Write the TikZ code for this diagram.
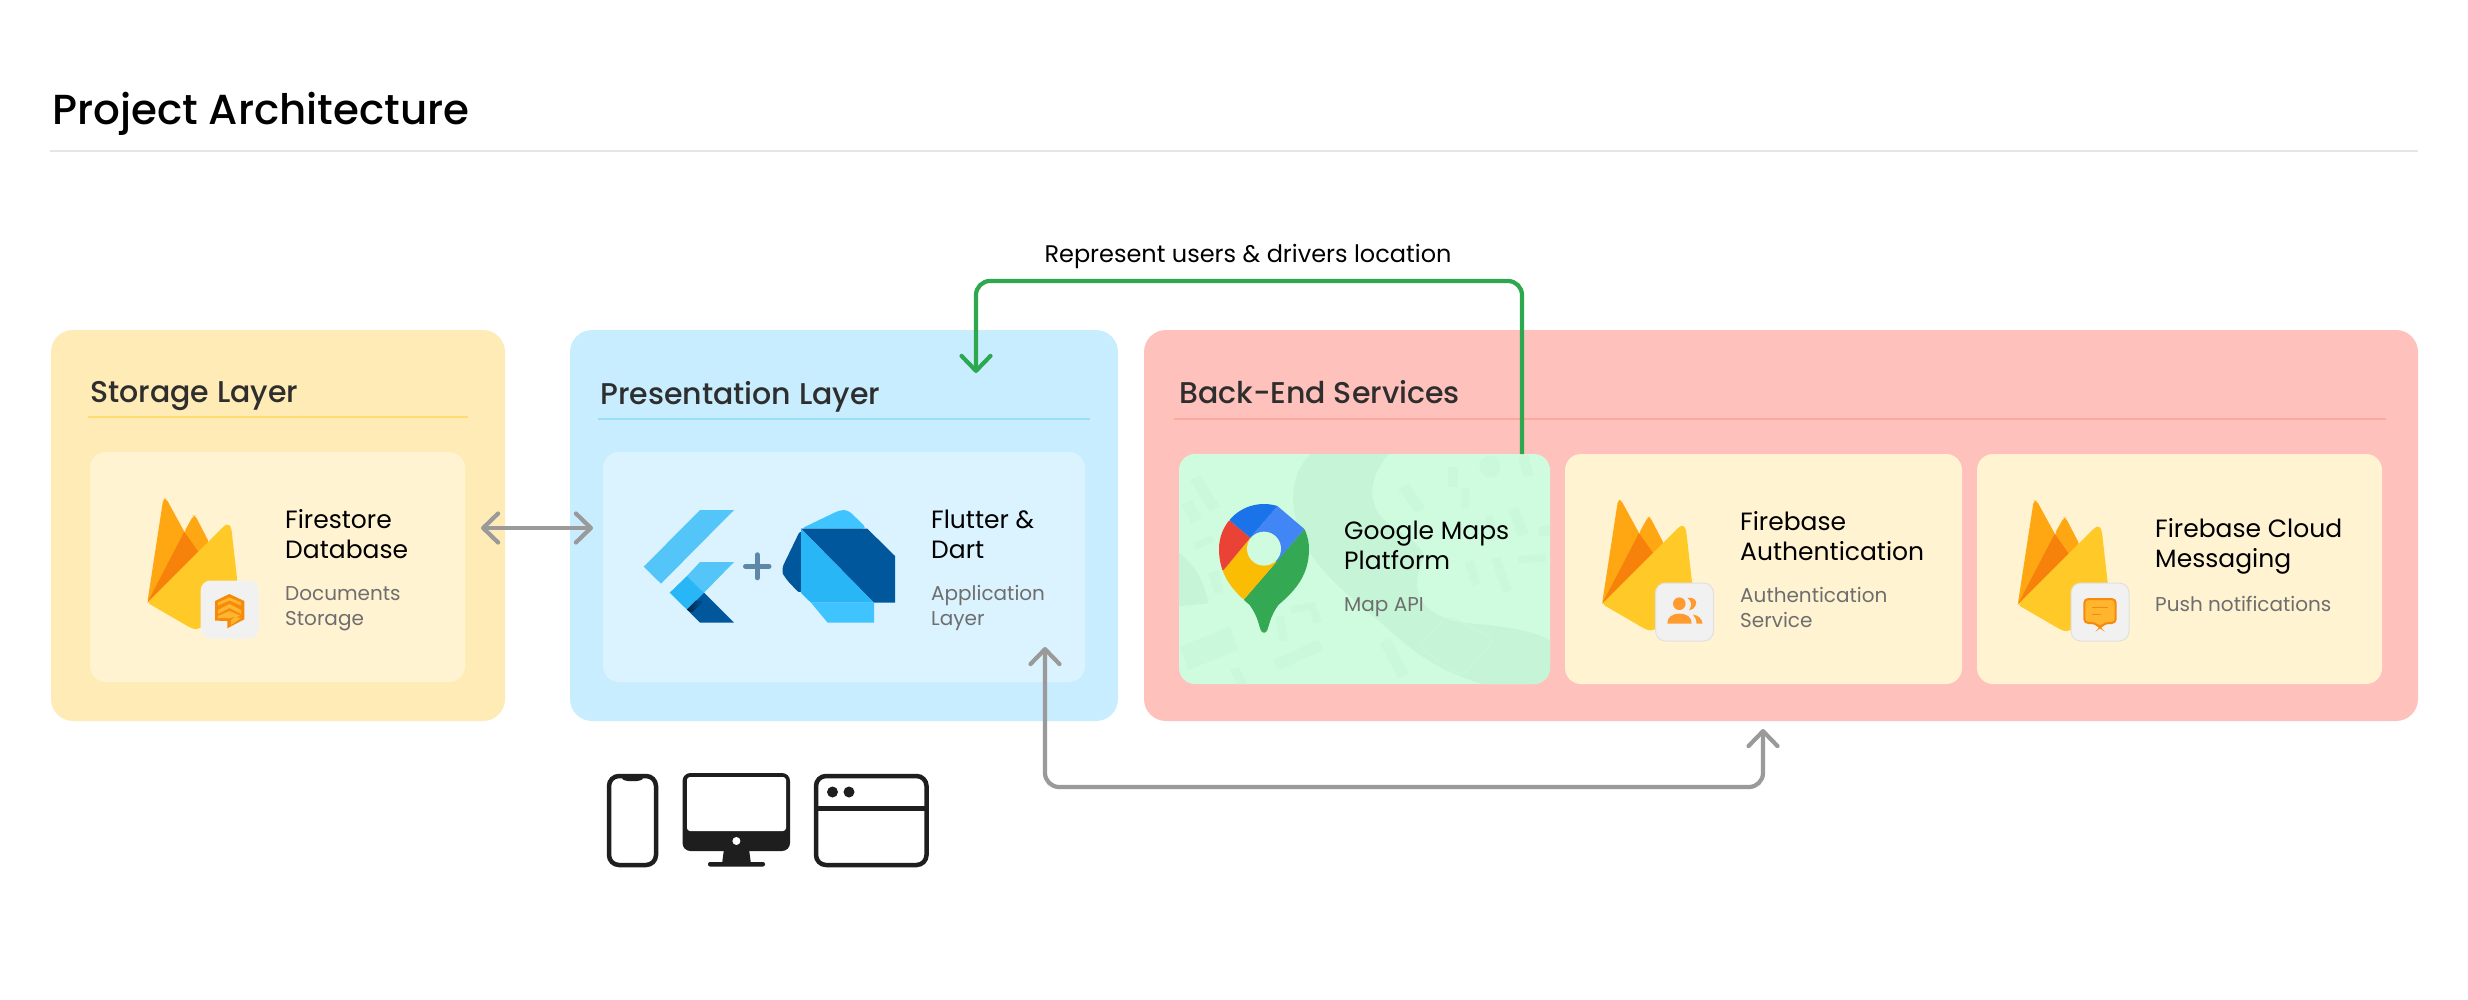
\documentclass[tikz,border=0pt]{standalone}
\usepackage{fontspec}
\setmainfont{Poppins}
\newfontfamily\pmed{Poppins Medium}
\usetikzlibrary{arrows.meta,shadings}
\definecolor{storebg}{HTML}{FEEBB6}
\definecolor{storein}{HTML}{FFF3D2}
\definecolor{storeln}{HTML}{FFDC73}
\definecolor{presbg}{HTML}{C8EDFF}
\definecolor{presin}{HTML}{DAF3FF}
\definecolor{presln}{HTML}{9ADFFF}
\definecolor{backbg}{HTML}{FFC1BC}
\definecolor{backln}{HTML}{FFA8A2}
\definecolor{mapbg}{HTML}{CFFCDE}
\definecolor{mapdk}{HTML}{C6F4D6}
\definecolor{mapbd}{HTML}{CAF8DA}
\definecolor{arrgray}{HTML}{9A9A9A}
\definecolor{arrgreen}{HTML}{2EA84F}
\definecolor{subtxt}{HTML}{6E6E6E}
\definecolor{headtxt}{HTML}{2E2E2E}
\definecolor{ink}{HTML}{1E1E1E}
\definecolor{fbA}{HTML}{FFA712}
\definecolor{fbB}{HTML}{F6820C}
\definecolor{fbC}{HTML}{FFCA28}
\definecolor{badgebg}{HTML}{F1F1F1}
\definecolor{badgeln}{HTML}{E0E0E0}
\definecolor{icono}{HTML}{F58A0B}
\definecolor{icony}{HTML}{FFB52E}
\definecolor{iconp}{HTML}{FF9A2E}
\definecolor{flA}{HTML}{54C5F8}
\definecolor{flB}{HTML}{29B6F6}
\definecolor{flC}{HTML}{01579B}
\definecolor{daA}{HTML}{40C4FF}
\definecolor{plusc}{HTML}{5E87A8}
\definecolor{pinG}{HTML}{34A853}
\definecolor{pinY}{HTML}{FBBC04}
\definecolor{pinR}{HTML}{EA4335}
\definecolor{pinB}{HTML}{1A73E8}
\definecolor{pinL}{HTML}{4285F4}
\tikzset{
  panel/.style={inner sep=0pt,rounded corners=22pt},
  cardbox/.style={inner sep=0pt,rounded corners=16pt,minimum height=230pt},
  headtext/.style={anchor=base west,inner sep=0pt,text=headtxt,font=\pmed\fontsize{30}{36}\selectfont},
  cardtitle/.style={anchor=base west,inner sep=0pt,align=left,text=black,font=\fontsize{25}{30}\selectfont},
  cardsub/.style={anchor=base west,inner sep=0pt,align=left,text=subtxt,font=\fontsize{20}{24.5}\selectfont},
  badge/.style={inner sep=0pt,minimum size=58pt,rounded corners=10pt,fill=badgebg},
  barbtips/.style={>={Straight Barb[length=15pt,width=29pt,line cap=round,round]}},
  grayflow/.style={draw=arrgray,line width=4.2pt,rounded corners=14pt,barbtips},
  greenflow/.style={draw=arrgreen,line width=4.2pt,rounded corners=14pt,barbtips},
  firebase/.pic={
    \fill[fbA,rounded corners=3pt] (0,0) -- (16,-104) -- (19,-104) -- (37,-71) -- (52,-48) -- cycle;
    \fill[fbA,rounded corners=3pt] (37,-71) -- (46,-87) -- (48,-87) -- (62,-60) -- (50,-46) -- cycle;
    \fill[fbB] (0,0) -- (37,-71) -- (51,-51) -- cycle;
    \fill[fbC,rounded corners=3pt] (0,0) -- (77,-77) -- (81,-79) -- (84,-75) -- (93,5) -- (49,27) -- (43,25) -- cycle;
  },
  flutterlogo/.pic={
    \fill[flA] (700,510) -- (734,510) -- (661,583.7) -- (643.7,566.7) -- cycle;
    \fill[flA] (700,562) -- (734,562) -- (704,592.7) -- (687,576) -- cycle;
    \fill[flC] (704,592.7) -- (734,622.7) -- (700,622.7) -- (687,609.7) -- cycle;
    \fill[flB] (687,576) -- (704,592.7) -- (687,609.7) -- (669.7,592.7) -- cycle;
    \fill[left color=flC!40!black,right color=flC] (687,609.7) -- (696,600.7) -- (702,602) -- (692,612) -- cycle;
  },
  dartlogo/.pic={
    \fill[daA,rounded corners=5pt] (801,528.7) -- (840,510) -- (848,510) -- (867.3,528.7) -- cycle;
    \fill[flC,rounded corners=6pt] (801,528.7) -- (781,570) -- (785,578) -- (801,595) -- (810,560) -- cycle;
    \fill[flC] (801,528.7) -- (867.3,528.7) -- (895,556) -- (895,602.7) -- (874,602.7) -- cycle;
    \fill[daA] (811,602.7) -- (874,602.7) -- (874,622.7) -- (827.7,622.7) -- cycle;
    \fill[flB] (801,528.7) -- (874,602.7) -- (811,602.7) -- (801,593) -- cycle;
  },
}
\begin{document}
\begin{tikzpicture}[x=1pt,y=-1pt]
\useasboundingbox (0,0) rectangle (2468,1000);
\fill[white] (0,0) rectangle (2468,1000);

% heading
\node[anchor=base west,inner sep=0pt,font=\pmed\fontsize{42}{48}\selectfont,text=black] (pagetitle) at (52,124.7) {Project Architecture};
\coordinate (ruleL) at (50,151);
\coordinate (ruleR) at (2418,151);
\draw[draw=black!10,line width=2pt] (ruleL) -- (ruleR);

% panels
\node[panel,fill=storebg,minimum width=454pt,minimum height=391pt] (storage) at (278,525.5) {};
\node[panel,fill=presbg,minimum width=548pt,minimum height=391pt] (presentation) at (844,525.5) {};
\node[panel,fill=backbg,minimum width=1274pt,minimum height=391pt] (backend) at (1781,525.5) {};

\node[headtext] (storagehead) at (90,402) {Storage Layer};
\node[headtext] (preshead) at (600,404) {Presentation Layer};
\node[headtext] (backhead) at (1179,403) {Back-End Services};
\draw[storeln,line width=2pt] (88,417) -- (468,417);
\draw[presln,line width=2pt] (598,418.5) -- (1090,418.5);
\draw[backln,line width=2pt] (1174,418.5) -- (2386,418.5);

% inner cards
\node[cardbox,fill=storein,minimum width=375pt] (firestore) at (277.5,567) {};
\node[cardbox,fill=presin,minimum width=482pt] (flutter) at (844,567) {};
\node[cardbox,fill=mapbg,minimum width=371pt] (maps) at (1364.5,569) {};
\node[cardbox,fill=storein,minimum width=397pt] (auth) at (1763.5,569) {};
\node[cardbox,fill=storein,minimum width=405pt] (fcm) at (2179.5,569) {};

% map texture
\begin{scope}
\clip[rounded corners=16pt] (1179,454) rectangle (1550,684);
\begin{scope}[shift={(1175,450)},scale=0.33333]
  \begin{scope}[mapbd]
    \fill (45,90) -- (75,75) -- (135,170) -- (105,185) -- cycle;
    \fill (20,165) -- (50,150) -- (80,205) -- (50,220) -- cycle;
    \fill (55,280) -- (110,255) -- (118,275) -- (62,300) -- cycle;
    \fill (100,370) -- (130,360) -- (145,425) -- (118,430) -- cycle;
    \fill (15,590) -- (165,530) -- (190,600) -- (40,660) -- cycle;
    \fill (295,630) -- (430,570) -- (445,600) -- (310,660) -- cycle;
    \fill (345,470) -- (420,455) -- (440,515) -- (415,520) -- (405,480) -- (350,490) -- cycle;
    \fill (300,500) -- (325,495) -- (340,570) -- (315,575) -- cycle;
    \fill (615,580) -- (645,565) -- (700,670) -- (670,685) -- cycle;
    \fill (165,660) -- (190,650) -- (215,700) -- (190,710) -- cycle;
    \fill (670,120) -- (700,100) -- (750,170) -- (725,190) -- cycle;
    \fill (820,50) -- (848,50) -- (848,110) -- (820,110) -- cycle;
    \fill (860,115) -- (885,115) -- (880,175) -- (857,175) -- cycle;
    \fill (945,50) circle (32);
    \fill (1030,20) -- (1060,15) -- (1075,75) -- (1045,80) -- cycle;
    \fill (1000,180) -- (1030,170) -- (1060,250) -- (1030,260) -- cycle;
    \fill (930,200) -- (950,195) -- (970,270) -- (950,275) -- cycle;
    \fill (1030,318) -- (1110,312) -- (1112,335) -- (1032,340) -- cycle;
    \fill (870,340) -- (895,330) -- (915,400) -- (892,410) -- cycle;
    \fill (950,330) -- (975,320) -- (1010,420) -- (985,430) -- cycle;
    \fill (1090,230) -- (1125,225) -- (1125,255) -- (1092,260) -- cycle;
  \end{scope}
  \fill[mapdk] (420,0) .. controls (360,50) and (335,130) .. (370,230)
     .. controls (400,340) and (500,420) .. (620,520)
     .. controls (720,610) and (800,680) .. (1000,720)
     -- (1140,720) -- (1140,580)
     .. controls (1050,520) and (900,530) .. (830,510)
     .. controls (750,490) and (700,430) .. (740,340)
     .. controls (770,280) and (640,240) .. (610,190)
     .. controls (570,120) and (600,60) .. (650,0) -- cycle;
  \fill[mapdk] (0,300) .. controls (60,340) and (90,400) .. (100,460) -- (0,470) -- cycle;
  \draw[mapbd,line width=1pt,rounded corners=8pt] (730,590) -- (820,495) -- (960,570) -- (860,680) -- cycle;
\end{scope}
\end{scope}

% firebase flames and badges
\path (147.3,602.7) pic {firebase};
\node[badge] (badgeA) at (229.6,609.5) {};
\path (1602,604) pic {firebase};
\node[badge,draw=badgeln,line width=1pt] (badgeB) at (1684.5,612) {};
\path (2017.7,604.7) pic {firebase};
\node[badge,draw=badgeln,line width=1pt] (badgeC) at (2100,612) {};

% storage badge icon
\fill[icono] (229.3,594) -- (244.3,601) -- (244.3,619.3) -- (227.3,628.3) -- (227.3,621) -- (215,620.6) -- (215,601) -- cycle;
\fill[icony] (218,602.5) -- (229.5,597.5) -- (241,602.5) -- (241,605.5) -- (229.5,600.5) -- (218,605.5) -- cycle;
\fill[icony] (218,610) -- (229.5,604) -- (241,610) -- (241,614) -- (229.5,608) -- (218,614) -- cycle;
\fill[icony] (218,618) -- (218,616) -- (229.5,611) -- (241,616) -- (229.5,618) -- cycle;
\fill[icony] (231,625) -- (231,620) -- (235,617) -- (241,618) -- cycle;

% users badge icon
\fill[iconp] (1679.3,603.7) circle (6.3pt);
\fill[iconp] (1667.3,623.7) .. controls (1667.3,617) and (1672,613.7) .. (1679.5,613.7) .. controls (1687,613.7) and (1691.7,617) .. (1691.7,623.7) -- cycle;
\fill[iconp] (1687.5,598) .. controls (1694,596.5) and (1697,601) .. (1696,604) .. controls (1695,608) and (1692,610) .. (1689,610.5) .. controls (1692,606) and (1692,601) .. (1687.5,598) -- cycle;
\fill[iconp] (1693,614.5) .. controls (1699,615.5) and (1702,619) .. (1702.5,623.7) -- (1696.5,623.7) .. controls (1696.5,620) and (1695,617) .. (1693,614.5) -- cycle;

% message badge icon
\draw[icono,fill=icony,line width=2pt,rounded corners=4pt] (2084.3,599) -- (2115.7,599) -- (2115.7,623) -- (2104.5,623) -- (2100,628) -- (2095.5,623) -- (2084.3,623) -- cycle;
\draw[icono,line width=1.5pt] (2092.3,607.7) -- (2107.7,607.7);
\draw[icono,line width=1.5pt] (2092.3,614.3) -- (2101,614.3);

% flutter + dart
\path (0,0) pic {flutterlogo};
\draw[plusc,line width=5pt,line cap=round] (745.5,566.3) -- (769,566.3);
\draw[plusc,line width=5pt,line cap=round] (757.2,554.8) -- (757.2,577.8);
\path (0,0) pic {dartlogo};

% maps pin
\begin{scope}[shift={(1190,490)},scale=0.33333]
  \begin{scope}
    \clip (222,42) .. controls (297,42) and (357,102) .. (357,177)
       .. controls (357,250) and (322,297) .. (265,345)
       .. controls (240,380) and (238,405) .. (232,420)
       .. controls (228,431) and (216,431) .. (212,420)
       .. controls (206,405) and (204,380) .. (179,345)
       .. controls (122,297) and (87,250) .. (87,177)
       .. controls (87,102) and (147,42) .. (222,42) -- cycle;
    \fill[pinG] (343,117) -- (420,117) -- (420,450) -- (100,450) -- (163,327) -- cycle;
    \fill[pinY] (163,327) -- (260,215) -- (222,176) -- (181,143) -- (101,240) -- (60,300) -- cycle;
    \fill[pinR] (120,92) -- (181,143) -- (101,240) -- (60,260) -- (60,92) -- cycle;
    \fill[pinB] (120,92) -- (181,143) -- (270,40) -- (270,20) -- (100,20) -- cycle;
    \fill[pinL] (262,48) -- (343,117) -- (260,215) -- (181,143) -- cycle;
  \end{scope}
  \fill[mapbg] (222,176) circle (51);
\end{scope}

% card texts
\node[cardtitle] (t1) at (285,528) {Firestore};
\node[cardtitle] (t1b) at (285,558) {Database};
\node[cardsub] (s1) at (285,600) {Documents};
\node[cardsub] (s1b) at (285,625) {Storage};
\node[cardtitle] (t2) at (931,528.5) {Flutter \&};
\node[cardtitle] (t2b) at (931,558.5) {Dart};
\node[cardsub] (s2) at (931,600.5) {Application};
\node[cardsub] (s2b) at (931,625) {Layer};
\node[cardtitle] (t3) at (1344,539) {Google Maps};
\node[cardtitle] (t3b) at (1344,569) {Platform};
\node[cardsub] (s3) at (1344,611.5) {Map API};
\node[cardtitle] (t4) at (1740,530) {Firebase};
\node[cardtitle] (t4b) at (1740,560) {Authentication};
\node[cardsub] (s4) at (1740,602) {Authentication};
\node[cardsub] (s4b) at (1740,627) {Service};
\node[cardtitle] (t5) at (2155,537) {Firebase Cloud};
\node[cardtitle] (t5b) at (2155,567) {Messaging};
\node[cardsub] (s5) at (2155,611.5) {Push notifications};

% connectors
\coordinate (fsEnd) at (481,528);
\coordinate (flEnd) at (593,528);
\draw[grayflow,<->] (fsEnd) -- (flEnd);
\coordinate (flBottom) at (1045,647);
\coordinate (authBottom) at (1763,729);
\draw[grayflow,<->] (flBottom) -- (1045,787) -- (1763,787) -- (authBottom);
\coordinate (mapTop) at (1522,454);
\coordinate (presTop) at (976,373);
\draw[greenflow,->] (mapTop) -- (1522,281) -- (976,281) -- (presTop);
\node[inner sep=0pt,anchor=base,font=\fontsize{24}{28}\selectfont,text=black] (greenlabel) at (1248,263) {Represent users \& drivers location};

% device icons
\draw[ink,line width=4.5pt,rounded corners=10pt] (609,776) rectangle (656,865);
\fill[ink,rounded corners=3pt] (621,775) -- (644,775) -- (644,778) -- (640,781) -- (625,781) -- (621,778) -- cycle;
\fill[ink,rounded corners=8pt] (682.5,773) rectangle (790,851);
\fill[white,rounded corners=3pt] (687,777) -- (786,777) -- (786,831) -- (687,831) -- cycle;
\fill[white] (736.4,841) circle (4pt);
\fill[ink] (724,849) -- (749,849) -- (751,864) -- (722,864) -- cycle;
\fill[ink,rounded corners=2pt] (708,862) rectangle (765,866.5);
\draw[ink,line width=4.5pt,rounded corners=10pt] (816,776) rectangle (926.5,865);
\draw[ink,line width=4.5pt] (816,808.6) -- (926.5,808.6);
\fill[ink] (832.5,792) circle (5.5pt);
\fill[ink] (849,792) circle (5.5pt);
\end{tikzpicture}
\end{document}
